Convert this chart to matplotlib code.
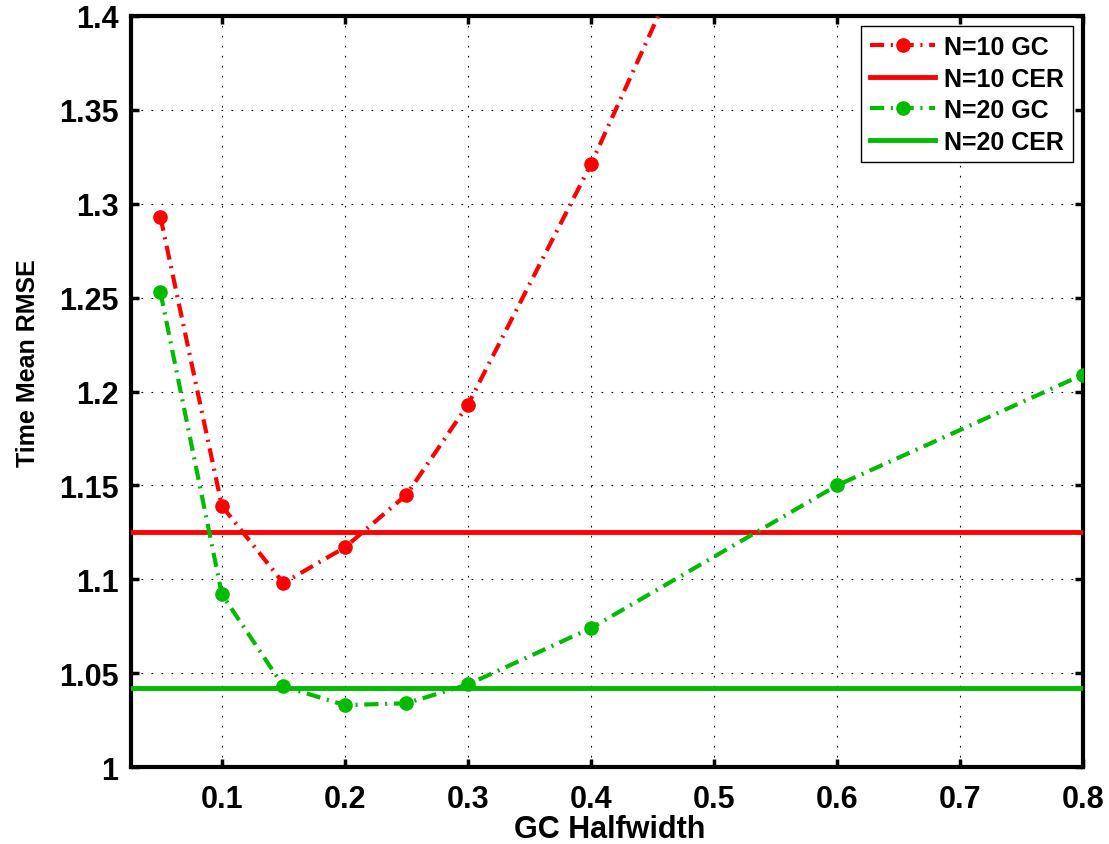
import matplotlib
matplotlib.use("Agg")
import matplotlib.pyplot as plt
from matplotlib.ticker import FuncFormatter

plt.rcParams['font.family'] = ['Liberation Sans', 'DejaVu Sans']
plt.rcParams['font.weight'] = 'bold'

# GC halfwidths and time mean RMSE values
halfwidth = [0.05, 0.1, 0.15, 0.2, 0.25, 0.3, 0.4, 0.6, 0.8]
n10_gc = [1.293, 1.139, 1.098, 1.117, 1.145, 1.193, 1.321, 1.61, 1.85]
n20_gc = [1.253, 1.092, 1.043, 1.033, 1.034, 1.044, 1.074, 1.150, 1.209]
n10_cer = 1.125
n20_cer = 1.042

red = '#ff0000'
green = '#00bb00'
dashdot = (3.4, 1.6, 0.5, 1.6)

fig = plt.figure(figsize=(11.09, 8.45), dpi=100)
ax = fig.add_axes([0.118, 0.091, 0.8586, 0.889])

ax.plot(halfwidth, n10_gc, color=red, lw=3, dashes=dashdot, marker='o',
        markersize=9.5, label='N=10 GC', zorder=3)
ax.axhline(n10_cer, color=red, lw=3.5, label='N=10 CER', zorder=3)
ax.plot(halfwidth, n20_gc, color=green, lw=3, dashes=dashdot, marker='o',
        markersize=9.5, label='N=20 GC', zorder=3)
ax.axhline(n20_cer, color=green, lw=3.5, label='N=20 CER', zorder=3)

ax.set_xlim(0.026, 0.8)
ax.set_ylim(1.0, 1.4)
ax.set_xticks([0.1, 0.2, 0.3, 0.4, 0.5, 0.6, 0.7, 0.8])
ax.set_yticks([1.0, 1.05, 1.1, 1.15, 1.2, 1.25, 1.3, 1.35, 1.4])
fmt = FuncFormatter(lambda v, p: '%g' % round(v, 2))
ax.xaxis.set_major_formatter(fmt)
ax.yaxis.set_major_formatter(fmt)

ax.grid(True, color='black', lw=0.8, linestyle=(0, (1.5, 7.5)))
ax.tick_params(direction='in', length=6, width=2.5, labelsize=22,
               top=True, right=True)
ax.tick_params(axis='x', pad=12)
ax.tick_params(axis='y', pad=9)
for s in ax.spines.values():
    s.set_linewidth(3)

ax.set_xlabel('GC Halfwidth', fontsize=22, fontweight='bold')
ax.set_ylabel('Time Mean RMSE', fontsize=18, fontweight='bold')
ax.xaxis.set_label_coords(0.503, -0.062)
ax.yaxis.set_label_coords(-0.095, 0.539)

leg = ax.legend(loc='upper right', fontsize=18, handlelength=2.6,
                handletextpad=0.35, labelspacing=0.3, borderaxespad=0.42,
                fancybox=False, framealpha=1, edgecolor='black',
                borderpad=0.35)
leg.get_frame().set_linewidth(1)

fig.savefig('out.png', dpi=100)
